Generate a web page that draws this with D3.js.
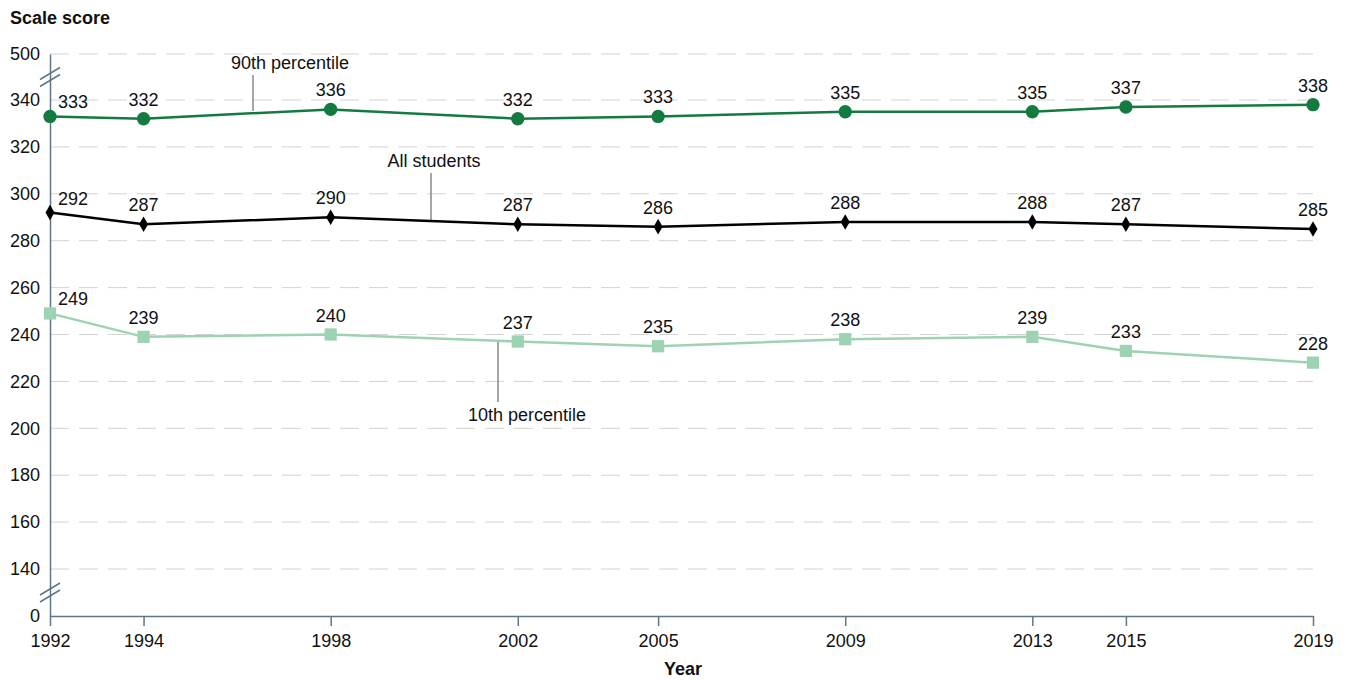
<!DOCTYPE html>
<html><head><meta charset="utf-8">
<script src="https://cdn.jsdelivr.net/npm/d3@7"></script>
<style>body{margin:0;background:#fff}svg{display:block;font-family:"Liberation Sans",Arial,sans-serif}</style>
</head><body><svg id="c" width="1346" height="681"></svg>
<script>
const years = [1992, 1994, 1998, 2002, 2005, 2009, 2013, 2015, 2019];
const p90 = [333, 332, 336, 332, 333, 335, 335, 337, 338];
const all = [292, 287, 290, 287, 286, 288, 288, 287, 285];
const p10 = [249, 239, 240, 237, 235, 238, 239, 233, 228];
const yTicks = [0, 140, 160, 180, 200, 220, 240, 260, 280, 300, 320, 340, 500];

const FS = 18;
const svg = d3.select("#c");
const x = d3.scaleLinear().domain([1992, 2019]).range([50, 1313]);
const y = d3.scaleLinear().domain([0, 140, 340, 500]).range([616, 569, 100, 54]);
const axisColor = "#5f7687";

// gridlines
svg.append("g").selectAll("line").data(yTicks.filter(d => d > 0)).join("line")
  .attr("x1", 50).attr("x2", 1313).attr("y1", d => y(d)).attr("y2", d => y(d))
  .attr("stroke", "#d3d3d3").attr("stroke-width", 1).attr("stroke-dasharray", "19,10");

// y axis
const ya = svg.append("g").attr("transform", "translate(50,0)")
  .call(d3.axisLeft(y).tickValues(yTicks).tickSize(0).tickPadding(10));
ya.select(".domain").attr("stroke", axisColor).attr("stroke-width", 1.5);
ya.selectAll("text").attr("font-size", FS).attr("fill", "#111").attr("font-family", "Liberation Sans, Arial, sans-serif");

// x axis
const xa = svg.append("g").attr("transform", "translate(0,616)")
  .call(d3.axisBottom(x).tickValues(years).tickFormat(d3.format("d")).tickSize(10).tickSizeOuter(0).tickPadding(8));
xa.select(".domain").attr("stroke", axisColor).attr("stroke-width", 1.5);
xa.selectAll(".tick line").attr("stroke", axisColor).attr("stroke-width", 1.5);
xa.selectAll("text").attr("font-size", FS).attr("fill", "#111").attr("font-family", "Liberation Sans, Arial, sans-serif");

// axis breaks
[(y(340) + y(500)) / 2, (y(0) + y(140)) / 2].forEach(cy => {
  [-3.5, 3.5].forEach(o => {
    svg.append("line").attr("x1", 40).attr("x2", 60)
      .attr("y1", cy + o + 6).attr("y2", cy + o - 6)
      .attr("stroke", axisColor).attr("stroke-width", 1.5);
  });
});

// titles
svg.append("text").attr("x", 10).attr("y", 24).attr("font-size", FS).attr("font-weight", "bold").attr("fill", "#111").text("Scale score");
svg.append("text").attr("x", 683).attr("y", 675).attr("text-anchor", "middle").attr("font-size", FS).attr("font-weight", "bold").attr("fill", "#111").text("Year");

// annotations
const ann = [
  {t: "90th percentile", tx: 290, ty: 69, lx: 253, y1: 75, y2: 111},
  {t: "All students", tx: 434, ty: 167, lx: 431, y1: 173, y2: 220},
  {t: "10th percentile", tx: 527, ty: 421, lx: 498, y1: 340, y2: 402}
];
ann.forEach(a => {
  svg.append("line").attr("x1", a.lx).attr("x2", a.lx).attr("y1", a.y1).attr("y2", a.y2).attr("stroke", "#888").attr("stroke-width", 1.5);
  svg.append("text").attr("x", a.tx).attr("y", a.ty).attr("text-anchor", "middle").attr("font-size", FS).attr("fill", "#111").text(a.t);
});

const series = [
  {vals: p90, color: "#137a40", shape: d3.symbolCircle, size: 140},
  {vals: all, color: "#000000", shape: d3.symbolDiamond, size: 70},
  {vals: p10, color: "#9dd3b3", shape: d3.symbolSquare, size: 150}
];
const line = d3.line().x((d, i) => x(years[i])).y(d => y(d));
series.forEach(s => {
  svg.append("path").datum(s.vals).attr("d", line).attr("fill", "none").attr("stroke", s.color).attr("stroke-width", 2.5);
  svg.append("g").selectAll("path").data(s.vals).join("path")
    .attr("transform", (d, i) => `translate(${x(years[i])},${y(d)})`)
    .attr("d", d3.symbol().type(s.shape).size(s.size)).attr("fill", s.color);
  svg.append("g").selectAll("text").data(s.vals).join("text")
    .attr("x", (d, i) => i === 0 ? x(years[i]) + 8 : x(years[i]))
    .attr("y", (d, i) => i === 0 ? y(d) - 8 : y(d) - 13)
    .attr("text-anchor", (d, i) => i === 0 ? "start" : "middle")
    .attr("font-size", FS).attr("fill", "#111").text(d => d);
});
</script></body></html>
